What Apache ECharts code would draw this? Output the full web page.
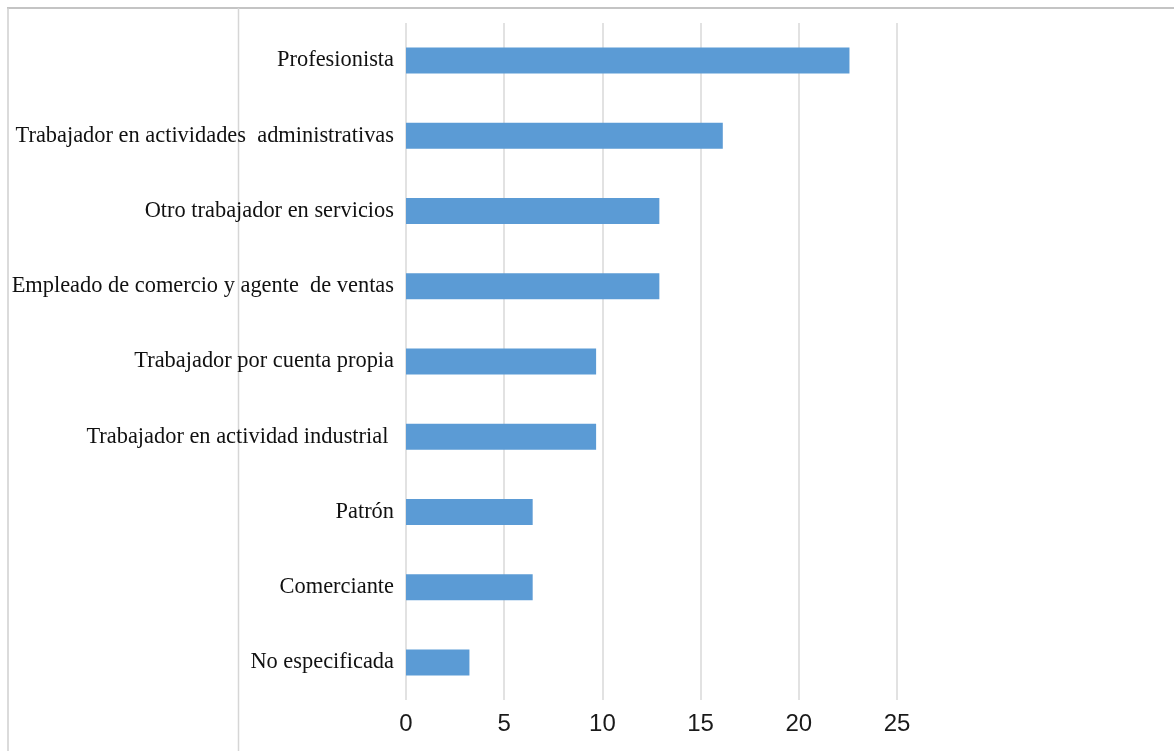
<!DOCTYPE html>
<html>
<head>
<meta charset="utf-8">
<script src="https://cdn.jsdelivr.net/npm/echarts@6/dist/echarts.min.js"></script>
<style>
  html, body { margin: 0; padding: 0; background: #fff; }
  #chart { width: 1174px; height: 751px; }
</style>
</head>
<body>
<div id="chart"></div>
<script>
// categories listed bottom to top (category axis starts at the bottom)
var categories = [
  "No especificada",
  "Comerciante",
  "Patrón",
  "Trabajador en actividad industrial ",
  "Trabajador por cuenta propia",
  "Empleado de comercio y agente  de ventas",
  "Otro trabajador en servicios",
  "Trabajador en actividades  administrativas",
  "Profesionista"
];
var values = [3.23, 6.45, 6.45, 9.68, 9.68, 12.9, 12.9, 16.13, 22.58];
var xTicks = [0, 5, 10, 15, 20, 25];

var chartDom = document.getElementById("chart");
var myChart = echarts.init(chartDom);

var option = {
  animation: false,
  grid: { left: 406, right: 277, top: 23, bottom: 51 },
  xAxis: {
    type: "value",
    min: xTicks[0],
    max: xTicks[xTicks.length - 1],
    interval: 5,
    axisLine: { show: false },
    axisTick: { show: false },
    splitLine: { lineStyle: { color: "#d9d9d9", width: 1.5 } },
    axisLabel: {
      margin: 12,
      fontFamily: "Liberation Sans",
      fontSize: 24,
      color: "#1a1a1a"
    }
  },
  yAxis: {
    type: "category",
    data: categories,
    axisLine: { show: false },
    axisTick: { show: false },
    axisLabel: {
      margin: 12,
      fontFamily: "Liberation Serif",
      fontSize: 22.4,
      color: "#111"
    }
  },
  series: [{
    type: "bar",
    data: values,
    barWidth: 26,
    itemStyle: { color: "#5b9bd5" }
  }],
  graphic: [
    // frame lines around the picture
    { type: "line", shape: { x1: 7, y1: 8, x2: 1174, y2: 8 }, style: { stroke: "#c4c4c4", lineWidth: 2 } },
    { type: "line", shape: { x1: 8, y1: 8, x2: 8, y2: 751 }, style: { stroke: "#cfcfcf", lineWidth: 1.5 } },
    { type: "line", shape: { x1: 238.5, y1: 8, x2: 238.5, y2: 751 }, style: { stroke: "#d6d6d6", lineWidth: 1.5 } }
  ]
};

myChart.setOption(option);
window.addEventListener("resize", function () {
  myChart.resize();
});
</script>
</body>
</html>
